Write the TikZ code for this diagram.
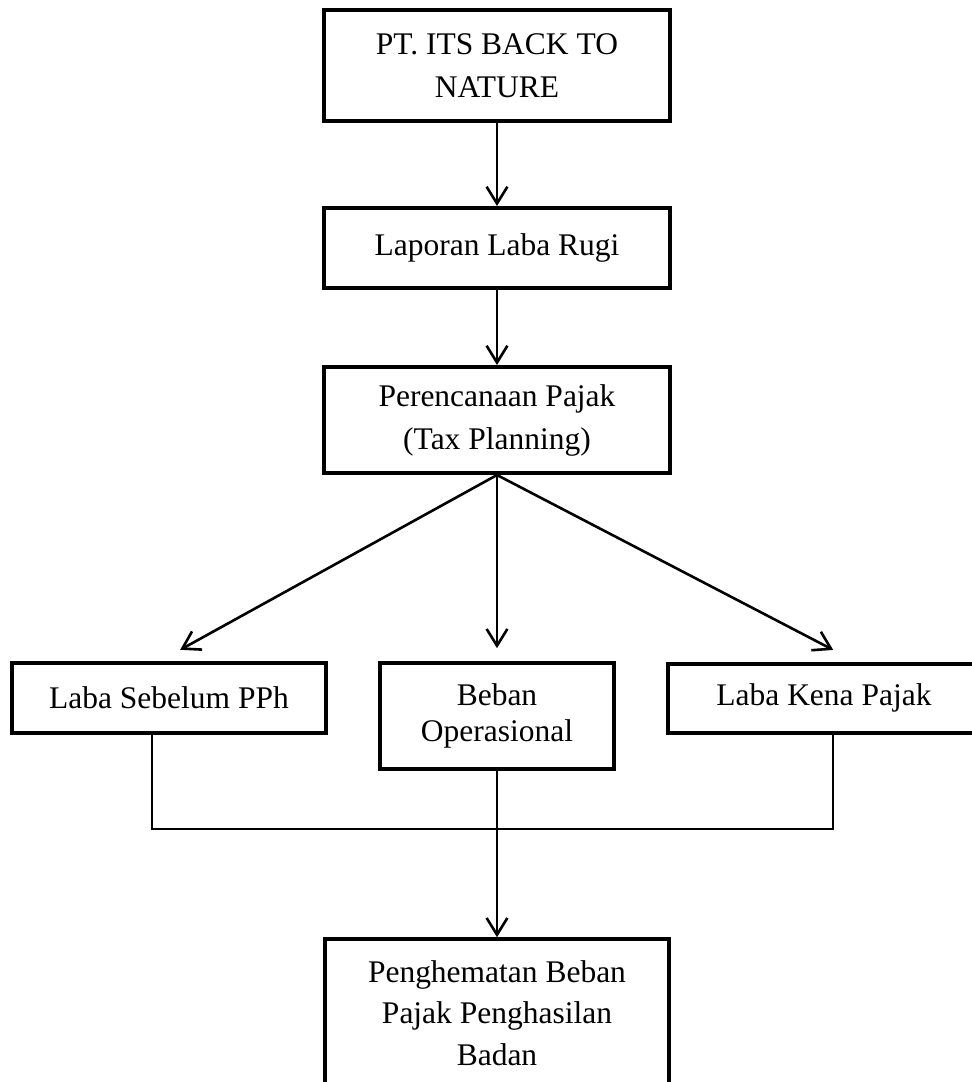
\documentclass[tikz,border=0pt]{standalone}
\usepackage{fontspec}
\setmainfont{Liberation Serif}
\usetikzlibrary{arrows.meta}

\begin{document}
\begin{tikzpicture}
  [
  font={\fontsize{22.4}{30.6}\selectfont}, line width=0.065cm, draw=black,
  box/.style={rectangle, inner sep=0pt, align=center, line width=0.1cm, draw=black},
  arrow/.style={-{Straight Barb[length=0.42cm, width=0.52cm]}, line width=0.065cm},
  link/.style={line width=0.04cm},
  ]

\useasboundingbox (-12.425,0) rectangle (11.85,-27.05);

\node[box, minimum width=8.625cm, minimum height=2.775cm] (company) at (0,-1.64) {PT. ITS BACK TO\\NATURE};
\node[box, minimum width=8.625cm, minimum height=2cm] (report) at (0,-6.2) {Laporan Laba Rugi};
\node[box, minimum width=8.625cm, minimum height=2.65cm] (planning) at (0,-10.5) {Perencanaan Pajak\\(Tax Planning)};

\node[box, minimum width=7.85cm, minimum height=1.75cm] (before) at (-8.2,-17.45) {Laba Sebelum PPh};
\node[box, minimum width=5.825cm, minimum height=2.65cm, font={\fontsize{22.4}{25.6}\selectfont}] (expense) at (0,-17.9) {Beban\\Operasional};
\node[box, minimum width=7.8cm, minimum height=1.725cm] (taxable) at (8.175,-17.46) {Laba Kena Pajak};

\node[box, minimum width=8.6cm, minimum height=3.7cm, font={\fontsize{22.4}{29.5}\selectfont}] (saving) at (0,-25.33) {Penghematan Beban\\Pajak Penghasilan\\Badan};

\coordinate (join) at (0,-20.725);

\draw[arrow] (company) -- (report);
\draw[arrow] (report) -- (planning);
\draw[arrow] (planning.south) -- ([shift={(0.28,0.28)}]before.north);
\draw[arrow] (planning.south) -- ([yshift=0.32cm]expense.north);
\draw[arrow] (planning.south) -- ([shift={(0.23,0.3)}]taxable.north);
\draw[link] ([xshift=-0.43cm]before.south) |- (join) -| ([xshift=0.23cm]taxable.south);
\draw[arrow] (expense.south) -- (saving.north);
\end{tikzpicture}
\end{document}
